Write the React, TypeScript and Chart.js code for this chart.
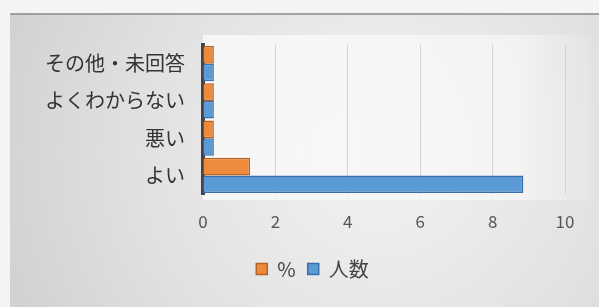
import React, { useEffect, useRef } from "react";
import { Chart, registerables } from "chart.js";

Chart.register(...registerables);

const categories = ["その他・未回答", "よくわからない", "悪い", "よい"];
const percentValues = [0.3, 0.3, 0.3, 1.3];
const countValues = [0.3, 0.3, 0.3, 8.85];
const xTicks = [0, 2, 4, 6, 8, 10];

const FONT = "'Noto Sans CJK JP', 'Noto Sans', sans-serif";

const bgPlugin = {
  id: "bg",
  afterLayout(chart: any) {
    if (chart.legend) {
      chart.legend.left += 30;
      chart.legend.right += 30;
    }
  },
  beforeDraw(chart: any) {
    const { ctx, width, height, chartArea } = chart;
    ctx.save();
    ctx.fillStyle = "#f4f4f4";
    ctx.fillRect(0, 0, width, height);
    const g = ctx.createRadialGradient(380, 150, 40, 380, 150, 420);
    g.addColorStop(0, "#f0f0f0");
    g.addColorStop(0.5, "#e2e2e2");
    g.addColorStop(1, "#cfcfcf");
    ctx.fillStyle = g;
    ctx.fillRect(10, 14, width - 10, height - 14);
    const g2 = ctx.createLinearGradient(chartArea.left, 0, width, 0);
    g2.addColorStop(0, "rgba(250,250,250,0.85)");
    g2.addColorStop(0.8, "rgba(248,248,248,0.7)");
    g2.addColorStop(1, "rgba(235,235,235,0.2)");
    ctx.fillStyle = g2;
    ctx.fillRect(chartArea.left, chartArea.top - 10, width - chartArea.left - 8, chartArea.bottom - chartArea.top + 16);
    ctx.strokeStyle = "#8a8a8a";
    ctx.lineWidth = 1.5;
    ctx.beginPath();
    ctx.moveTo(10, 14);
    ctx.lineTo(width, 14);
    ctx.stroke();
    ctx.restore();
  },
};

export default function App() {
  const ref = useRef<HTMLCanvasElement | null>(null);
  useEffect(() => {
    document.body.style.margin = "0";
    const chart = new Chart(ref.current as HTMLCanvasElement, {
      type: "bar",
      data: {
        labels: categories,
        datasets: [
          {
            label: "%",
            data: percentValues,
            backgroundColor: "#ee8a3c",
            borderColor: "#b8621f",
            borderWidth: 1.5,
            categoryPercentage: 0.94,
            barPercentage: 1.0,
          },
          {
            label: "人数",
            data: countValues,
            backgroundColor: "#5b9bd5",
            borderColor: "#3b6ea8",
            borderWidth: 1.5,
            categoryPercentage: 0.94,
            barPercentage: 1.0,
          },
        ],
      },
      options: {
        indexAxis: "y",
        animation: false,
        responsive: false,
        maintainAspectRatio: false,
        layout: { padding: { left: 0, right: 34, top: 45, bottom: 18 } },
        scales: {
          x: {
            min: 0,
            max: 10,
            afterBuildTicks(scale: any) {
              scale.ticks = xTicks.map((v) => ({ value: v }));
            },
            afterFit(scale: any) {
              scale.height = 53;
            },
            grid: { color: "#d4d4d4", drawTicks: false, lineWidth: 1 },
            border: { display: false },
            ticks: {
              padding: 17,
              color: "#555",
              font: { family: FONT, size: 17 },
            },
          },
          y: {
            afterFit(scale: any) {
              scale.width = 203;
            },
            grid: { display: false, drawTicks: false },
            border: { display: true, color: "#444", width: 4 },
            ticks: {
              padding: 18,
              color: "#333",
              font: { family: FONT, size: 20 },
            },
          },
        },
        plugins: {
          legend: {
            position: "bottom",
            labels: {
              boxWidth: 11,
              boxHeight: 11,
              padding: 12,
              color: "#444",
              font: { family: FONT, size: 20 },
            },
          },
          tooltip: { enabled: false },
        },
      },
      plugins: [bgPlugin],
    } as any);
    return () => chart.destroy();
  }, []);
  return (
    <div style={{ width: 599, height: 307 }}>
      <canvas ref={ref} width={599} height={307} style={{ display: "block" }} />
    </div>
  );
}
